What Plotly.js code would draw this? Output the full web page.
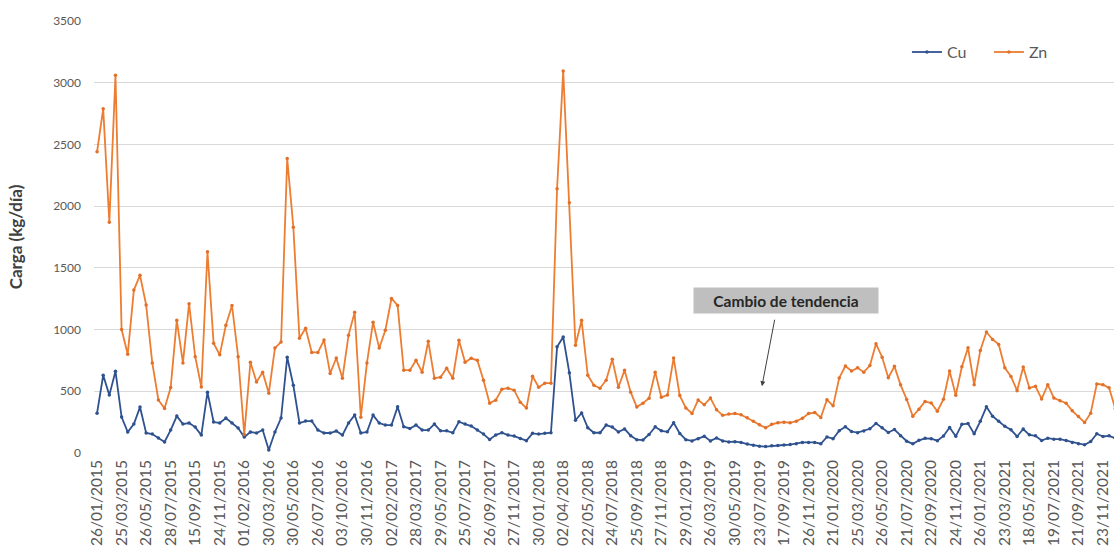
<!DOCTYPE html>
<html><head><meta charset="utf-8">
<script src="https://cdn.plot.ly/plotly-3.0.1.min.js"></script>
<style>html,body{margin:0;padding:0;background:#fff}#chart{width:1114px;height:560px}</style>
</head><body><div id="chart"></div>
<script>
const dateLabels = [
  "26/01/2015","25/03/2015","26/05/2015","28/07/2015","15/09/2015","24/11/2015",
  "01/02/2016","30/03/2016","30/05/2016","26/07/2016","03/10/2016","30/11/2016",
  "02/02/2017","28/03/2017","29/05/2017","25/07/2017","26/09/2017","27/11/2017",
  "30/01/2018","02/04/2018","22/05/2018","24/07/2018","25/09/2018","27/11/2018",
  "29/01/2019","26/03/2019","30/05/2019","23/07/2019","17/09/2019","26/11/2019",
  "21/01/2020","25/03/2020","26/05/2020","21/07/2020","22/09/2020","24/11/2020",
  "26/01/2021","23/03/2021","18/05/2021","19/07/2021","21/09/2021","23/11/2021"
];
const labelStep = 4;

const cu = [
  323, 630, 469, 663, 291, 170, 234, 372, 162, 154,
  121, 89, 186, 299, 234, 243, 210, 145, 493, 251,
  243, 283, 243, 202, 129, 170, 162, 186, 24, 170,
  283, 776, 549, 243, 259, 259, 186, 162, 162, 178,
  145, 243, 307, 162, 170, 307, 243, 226, 226, 374,
  213, 199, 226, 186, 186, 234, 180, 180, 164, 253,
  234, 218, 186, 153, 110, 145, 164, 145, 137, 118,
  100, 159, 153, 159, 164, 860, 940, 650, 265, 325,
  205, 164, 164, 226, 210, 170, 195, 140, 108, 105,
  150, 212, 180, 172, 245, 158, 108, 98, 115, 135,
  98, 122, 98, 90, 92, 86, 72, 62, 55, 52,
  58, 60, 65, 68, 75, 86, 86, 86, 75, 130,
  116, 180, 212, 174, 165, 178, 196, 240, 205, 166,
  190, 140, 96, 74, 103, 119, 116, 100, 138, 206,
  135, 233, 238, 156, 257, 374, 298, 257, 216, 188,
  134, 194, 147, 139, 101, 120, 112, 112, 101, 85,
  74, 66, 93, 156, 134, 139, 120
];

const zn = [
  2440, 2790, 1870, 3060, 1000, 800, 1320, 1440, 1200, 730,
  430, 360, 530, 1075, 730, 1210, 780, 535, 1630, 890,
  795, 1035, 1195, 780, 150, 735, 575, 655, 485, 850,
  900, 2385, 1830, 930, 1010, 815, 815, 915, 645, 770,
  605, 955, 1140, 290, 730, 1060, 850, 994, 1252, 1196,
  671, 671, 751, 655, 905, 606, 614, 687, 606, 913,
  735, 767, 751, 590, 404, 428, 517, 525, 509, 412,
  364, 622, 533, 566, 566, 2141, 3095, 2028, 873, 1075,
  630, 549, 525, 590, 759, 533, 671, 493, 372, 404,
  444, 655, 452, 469, 770, 465, 365, 320, 430, 390,
  445, 350, 305, 315, 320, 310, 285, 258, 228, 205,
  232, 245, 250, 245, 258, 282, 320, 328, 288, 432,
  382, 608, 705, 664, 690, 655, 708, 885, 776, 610,
  702, 552, 434, 298, 355, 418, 405, 338, 436, 664,
  468, 698, 852, 553, 831, 980, 920, 880, 690, 620,
  505, 696, 527, 540, 438, 553, 445, 424, 404, 342,
  295, 248, 322, 560, 553, 528, 360
];

const idx = cu.map((_, i) => i);
const tickIdx = dateLabels.map((_, k) => k * labelStep);
const FONT = 'Lato, "Open Sans", sans-serif';

const traces = [
  {x: idx, y: cu, name: 'Cu', type: 'scatter', mode: 'lines+markers',
   line: {color: '#2f528f', width: 1.8}, marker: {color: '#2f528f', size: 3.5}},
  {x: idx, y: zn, name: 'Zn', type: 'scatter', mode: 'lines+markers',
   line: {color: '#ed7d31', width: 1.8}, marker: {color: '#e0702a', size: 3.5}}
];

const layout = {
  width: 1114, height: 560,
  margin: {l: 94, r: 0, t: 21, b: 107, autoexpand: false},
  paper_bgcolor: '#ffffff', plot_bgcolor: '#ffffff',
  font: {family: FONT, color: '#595959'},
  showlegend: true,
  legend: {orientation: 'h', x: 0.797, xanchor: 'left', y: 0.928, yanchor: 'middle',
           font: {size: 16, color: '#595959'}, bgcolor: 'rgba(0,0,0,0)', itemwidth: 30,
           entrywidth: 37, entrywidthmode: 'pixels'},
  xaxis: {range: [-0.5, 165.8], tickmode: 'array', tickvals: tickIdx, ticktext: dateLabels,
          tickangle: -90, tickfont: {size: 15.5, color: '#595959'}, showgrid: false,
          zeroline: false, showline: false, ticks: '', ticklabelstandoff: 3, fixedrange: true},
  yaxis: {range: [0, 3500], dtick: 500, tick0: 0, showgrid: true, gridcolor: '#d9d9d9', gridwidth: 1,
          zeroline: false, showline: false, ticks: '', ticklabelstandoff: 12,
          tickfont: {size: 12, color: '#595959'},
          title: {text: '<b>Carga (kg/día)</b>', font: {size: 17, color: '#404040'}, standoff: 26}},
  annotations: [
    {xref: 'paper', yref: 'paper', x: 0.678, y: 0.353, xanchor: 'center', yanchor: 'middle',
     text: '<b>Cambio de tendencia</b>', showarrow: false, bgcolor: '#bfbfbf',
     width: 184, height: 25, borderpad: 0, font: {size: 15.5, color: '#262626', family: FONT}},
    {xref: 'x', yref: 'y', x: 108.4, y: 541, ax: 13, ay: -68, text: '', showarrow: true,
     arrowhead: 2, arrowsize: 1, arrowwidth: 1, arrowcolor: '#404040'}
  ]
};

Plotly.newPlot('chart', traces, layout, {displayModeBar: false, staticPlot: true});
</script>
</body></html>
